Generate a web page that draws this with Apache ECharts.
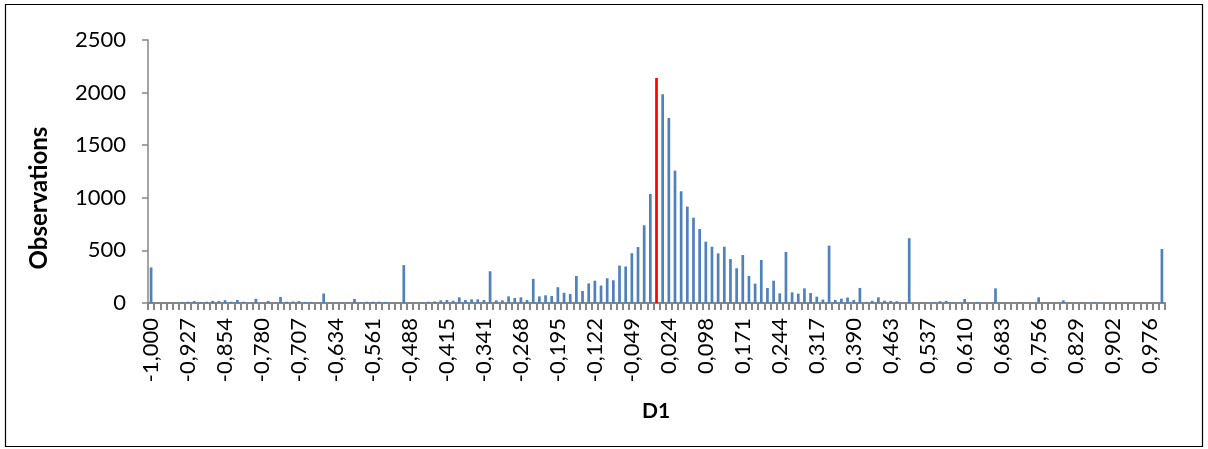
<!DOCTYPE html>
<html>
<head>
<meta charset="utf-8">
<script src="https://cdn.jsdelivr.net/npm/echarts@6/dist/echarts.min.js"></script>
<style>
html,body{margin:0;padding:0;background:#fff;}
#chart{width:1208px;height:449px;}
</style>
</head>
<body>
<div id="chart"></div>
<script>
// Bin labels of D1 (165 bins, step 1/82)
const categories = [
"-1,000","-0,988","-0,976","-0,963","-0,951","-0,939","-0,927","-0,915","-0,902","-0,890",
"-0,878","-0,866","-0,854","-0,841","-0,829","-0,817","-0,805","-0,793","-0,780","-0,768",
"-0,756","-0,744","-0,732","-0,720","-0,707","-0,695","-0,683","-0,671","-0,659","-0,646",
"-0,634","-0,622","-0,610","-0,598","-0,585","-0,573","-0,561","-0,549","-0,537","-0,524",
"-0,512","-0,500","-0,488","-0,476","-0,463","-0,451","-0,439","-0,427","-0,415","-0,402",
"-0,390","-0,378","-0,366","-0,354","-0,341","-0,329","-0,317","-0,305","-0,293","-0,280",
"-0,268","-0,256","-0,244","-0,232","-0,220","-0,207","-0,195","-0,183","-0,171","-0,159",
"-0,146","-0,134","-0,122","-0,110","-0,098","-0,085","-0,073","-0,061","-0,049","-0,037",
"-0,024","-0,012","0,000","0,012","0,024","0,037","0,049","0,061","0,073","0,085",
"0,098","0,110","0,122","0,134","0,146","0,159","0,171","0,183","0,195","0,207",
"0,220","0,232","0,244","0,256","0,268","0,280","0,293","0,305","0,317","0,329",
"0,341","0,354","0,366","0,378","0,390","0,402","0,415","0,427","0,439","0,451",
"0,463","0,476","0,488","0,500","0,512","0,524","0,537","0,549","0,561","0,573",
"0,585","0,598","0,610","0,622","0,634","0,646","0,659","0,671","0,683","0,695",
"0,707","0,720","0,732","0,744","0,756","0,768","0,780","0,793","0,805","0,817",
"0,829","0,841","0,854","0,866","0,878","0,890","0,902","0,915","0,927","0,939",
"0,951","0,963","0,976","0,988","1,000"
];

// Observations per bin
const observations = [
338,0,0,0,0,10,12,18,10,12,
20,20,27,12,28,12,0,40,0,20,
0,58,12,14,18,10,10,0,90,0,
0,8,8,38,0,12,12,12,10,0,
0,360,0,0,8,12,15,25,28,22,
54,28,35,35,28,302,25,25,63,48,
54,28,230,63,73,67,150,97,85,257,
114,186,212,166,235,216,356,347,473,532,
739,1036,2139,1984,1759,1258,1062,916,811,703,
583,535,472,535,418,330,456,257,184,409,
143,212,92,485,101,89,139,95,60,33,
545,29,41,52,28,143,10,21,54,22,
20,17,0,616,0,6,0,10,17,20,
8,0,38,0,10,0,0,139,0,0,
0,10,0,0,54,0,0,0,25,0,
0,7,0,10,3,0,3,0,0,0,
0,0,0,0,513
];

// Bin highlighted in red (D1 = 0)
const highlightCategory = "0,000";

const yTicks = [0, 500, 1000, 1500, 2000, 2500];
const yTitle = "Observations";
const xTitle = "D1";

const barColor = "#4F81BD";
const highlightColor = "#FF0000";
const axisColor = "#868686";
const fontFamily = "Lato, 'Open Sans', sans-serif";

const seriesData = observations.map((v, i) => (
  categories[i] === highlightCategory
    ? { value: v, itemStyle: { color: highlightColor } }
    : v
));

const chart = echarts.init(document.getElementById('chart'), null, { renderer: 'canvas' });
chart.setOption({
  animation: false,
  backgroundColor: '#ffffff',
  textStyle: { fontFamily: fontFamily },
  grid: { left: 148, right: 43, top: 40, bottom: 146, containLabel: false },
  graphic: [{
    type: 'rect',
    shape: { x: 5.5, y: 4.5, width: 1197, height: 442 },
    style: { fill: 'none', stroke: '#000', lineWidth: 1.2 },
    silent: true, z: -1
  }, {
    type: 'text',
    x: 39, y: 198,
    rotation: Math.PI / 2,
    style: {
      text: yTitle, fill: '#000', fontFamily: fontFamily, fontWeight: 'bold', fontSize: 24,
      align: 'center', verticalAlign: 'middle'
    },
    silent: true
  }, {
    type: 'text',
    x: 656, y: 411,
    style: {
      text: xTitle, fill: '#000', fontFamily: fontFamily, fontWeight: 'bold', fontSize: 21,
      align: 'center', verticalAlign: 'middle'
    },
    silent: true
  }],
  xAxis: {
    type: 'category',
    data: categories,
    boundaryGap: true,
    axisLine: { show: true, lineStyle: { color: axisColor, width: 2 } },
    axisTick: { show: true, interval: 0, length: 7, lineStyle: { color: axisColor, width: 2 } },
    axisLabel: {
      interval: 5, rotate: 90, margin: 15,
      fontFamily: fontFamily, fontSize: 22, color: '#000'
    },
    splitLine: { show: false }
  },
  yAxis: {
    type: 'value',
    min: 0, max: 2500, interval: 500,
    axisLine: { show: true, lineStyle: { color: axisColor, width: 1.5 } },
    axisTick: { show: true, length: 6, lineStyle: { color: axisColor, width: 1.5 } },
    axisLabel: {
      margin: 22, fontFamily: fontFamily, fontSize: 22, color: '#000',
      formatter: (v) => yTicks.includes(v) ? String(v) : ''
    },
    splitLine: { show: false }
  },
  series: [{
    type: 'bar',
    data: seriesData,
    barWidth: 2.7,
    itemStyle: { color: barColor },
    emphasis: { disabled: true }
  }]
});
</script>
</body>
</html>
